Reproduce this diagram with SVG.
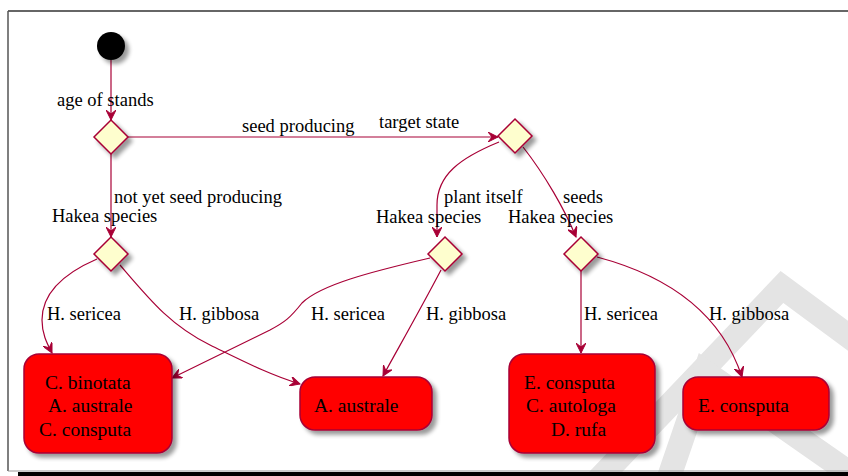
<svg xmlns="http://www.w3.org/2000/svg" width="848" height="476" viewBox="0 0 848 476">
<style>
.lbl{font-family:"Liberation Serif","Times New Roman",serif;font-size:18.5px;fill:#000}
.bt{font-family:"Liberation Serif","Times New Roman",serif;font-size:19.5px;fill:#000}
.dia{fill:#FEFECE;stroke:#A80036;stroke-width:1.5;filter:url(#sh)}
.box{fill:#FF0000;stroke:#A80036;stroke-width:1.5;filter:url(#sh)}
.edge{fill:none;stroke:#A80036;stroke-width:1.2;marker-end:url(#arr)}
.wm{fill:none;stroke:#e4e4e4;stroke-width:24}
</style>
<defs>
<filter id="sh" x="-30%" y="-30%" width="170%" height="170%">
<feGaussianBlur in="SourceAlpha" stdDeviation="2"/>
<feOffset dx="4" dy="4" result="b"/>
<feComponentTransfer><feFuncA type="linear" slope="0.4"/></feComponentTransfer>
<feMerge><feMergeNode/><feMergeNode in="SourceGraphic"/></feMerge>
</filter>
<marker id="arr" markerWidth="11" markerHeight="10" refX="10" refY="5" orient="auto" markerUnits="userSpaceOnUse">
<path d="M0,0 L10,5 L0,10 L4,5 Z" fill="#A80036" stroke="#A80036" stroke-width="1"/>
</marker>
</defs>
<rect width="848" height="476" fill="#fff"/>
<g id="watermark">
<polyline class="wm" points="598,480 782,287 870,352"/>
<polyline class="wm" points="668,480 705,372 848,472"/>
</g>
<g id="frame">
<line x1="8" y1="11" x2="848" y2="11" stroke="#333" stroke-width="1.5"/>
<line x1="8" y1="11" x2="8" y2="471" stroke="#555" stroke-width="1.5"/>
<line x1="8" y1="471" x2="848" y2="471" stroke="#999" stroke-width="1"/>
<rect x="18" y="472" width="830" height="4" fill="#000"/>
</g>
<g id="connectors">
<path class="edge" d="M111,60 L111,120"/>
<path class="edge" d="M111,154 L111,237"/>
<path class="edge" d="M128,137 L498,137"/>
<path class="edge" d="M499,142 C460,158 437,175 437,205 L437,237"/>
<path class="edge" d="M523,147 C545,175 565,210 576,237"/>
<path class="edge" d="M97,259 C60,275 42,295 42,320 C42,335 48,345 52,353"/>
<path class="edge" d="M120,265 C150,300 170,325 210,345 C245,362 270,375 300,384"/>
<path class="edge" d="M430,258 C370,272 320,285 302,303 C290,318 285,322 270,330 L172,378"/>
<path class="edge" d="M441,270 C420,310 400,345 383,376"/>
<path class="edge" d="M581,271 L581,353"/>
<path class="edge" d="M597,257 C665,275 720,310 742,377"/>
<text class="lbl" x="57" y="106">age of stands</text>
<text class="lbl" x="242" y="132">seed producing</text>
<text class="lbl" x="379" y="128">target state</text>
<text class="lbl" x="114" y="203">not yet seed producing</text>
<text class="lbl" x="52" y="222">Hakea species</text>
<text class="lbl" x="444" y="203">plant itself</text>
<text class="lbl" x="376" y="223">Hakea species</text>
<text class="lbl" x="563" y="203">seeds</text>
<text class="lbl" x="508" y="223">Hakea species</text>
<text class="lbl" x="47" y="320">H. sericea</text>
<text class="lbl" x="179" y="320">H. gibbosa</text>
<text class="lbl" x="311" y="320">H. sericea</text>
<text class="lbl" x="426" y="320">H. gibbosa</text>
<text class="lbl" x="584" y="320">H. sericea</text>
<text class="lbl" x="709" y="320">H. gibbosa</text>
</g>
<g id="start"><circle cx="111" cy="46" r="14" fill="#000" filter="url(#sh)"/></g>
<g id="d1"><polygon class="dia" points="111,120 128,137 111,154 94,137"/></g>
<g id="d2"><polygon class="dia" points="111,237 128,254 111,271 94,254"/></g>
<g id="d3"><polygon class="dia" points="515,119 532,136 515,153 498,136"/></g>
<g id="d4"><polygon class="dia" points="445,237 462,254 445,271 428,254"/></g>
<g id="d5"><polygon class="dia" points="581,237 598,254 581,271 564,254"/></g>
<g id="boxA">
<rect class="box" x="24" y="354" width="148" height="99" rx="15"/>
<text class="bt" x="45" y="389">C. binotata</text>
<text class="bt" x="48" y="412">A. australe</text>
<text class="bt" x="39" y="436">C. consputa</text>
</g>
<g id="boxB">
<rect class="box" x="300" y="377" width="132" height="53" rx="15"/>
<text class="bt" x="314" y="412">A. australe</text>
</g>
<g id="boxC">
<rect class="box" x="509" y="354" width="146" height="99" rx="15"/>
<text class="bt" x="524" y="389">E. consputa</text>
<text class="bt" x="526" y="412">C. autologa</text>
<text class="bt" x="551" y="436">D. rufa</text>
</g>
<g id="boxD">
<rect class="box" x="683" y="377" width="146" height="53" rx="15"/>
<text class="bt" x="698" y="412">E. consputa</text>
</g>
</svg>
